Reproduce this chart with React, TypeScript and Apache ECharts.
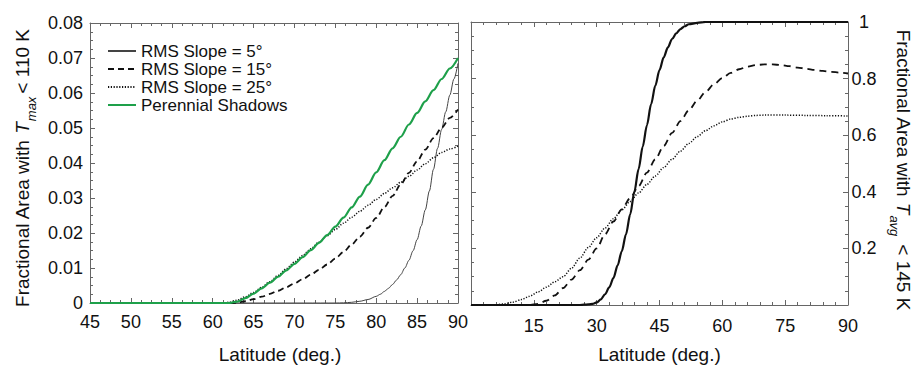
import React, { useEffect, useRef } from "react";
import * as echarts from "echarts";

const FONT = "'Liberation Sans', Arial, Helvetica, sans-serif";
const GREEN = "#1ea04a";
const AXIS_COLOR = "#666";

// ---------- Left panel: fractional area with Tmax < 110 K ----------
const leftLat5 = [45, 75, 76, 77, 78, 79, 80, 80.5, 81, 81.5, 82, 82.5, 83, 83.5, 84, 84.5, 85, 85.5, 86, 86.5, 87, 87.5, 88, 88.5, 89, 89.5, 90];
const leftVal5 = [0, 0, 0.00005, 0.0002, 0.0005, 0.001, 0.0019, 0.0025, 0.0033, 0.0042, 0.0053, 0.0066, 0.0081, 0.01, 0.0122, 0.0149, 0.0181, 0.022, 0.0266, 0.032, 0.0382, 0.0442, 0.0496, 0.0546, 0.0594, 0.064, 0.0685];

const leftLat15 = [45, 62.5, 63, 64, 65, 66, 67, 68, 69, 70, 71, 72, 73, 74, 75, 76, 77, 78, 79, 80, 81, 82, 83, 84, 85, 86, 87, 88, 89, 90];
const leftVal15 = [0, 0, 0.0001, 0.0005, 0.0011, 0.0018, 0.0026, 0.0035, 0.0045, 0.0056, 0.0068, 0.0081, 0.0095, 0.011, 0.0127, 0.0146, 0.0167, 0.019, 0.0215, 0.0243, 0.0274, 0.0306, 0.0339, 0.0372, 0.0405, 0.0438, 0.0471, 0.0501, 0.0529, 0.0553];

const leftLat25 = [45, 61.5, 62, 63, 64, 65, 66, 67, 68, 69, 70, 71, 72, 73, 74, 75, 76, 77, 78, 79, 80, 81, 82, 83, 84, 85, 86, 87, 88, 89, 90];
const leftVal25 = [0, 0, 0.0002, 0.0008, 0.0018, 0.003, 0.0045, 0.0061, 0.0079, 0.0098, 0.0117, 0.0136, 0.0155, 0.0174, 0.0192, 0.021, 0.0228, 0.0245, 0.0262, 0.0279, 0.0296, 0.0313, 0.0329, 0.0345, 0.0362, 0.038, 0.0398, 0.0415, 0.043, 0.044, 0.0448];

const leftLatPS = [45, 62, 63, 64, 65, 66, 67, 68, 69, 70, 71, 72, 73, 74, 75, 76, 77, 78, 79, 80, 81, 82, 83, 84, 85, 86, 87, 88, 89, 90];
const leftValPS = [0, 0, 0.0004, 0.0014, 0.0027, 0.0042, 0.0058, 0.0075, 0.0093, 0.0112, 0.0131, 0.0151, 0.0172, 0.0194, 0.0218, 0.0244, 0.0273, 0.0304, 0.0338, 0.0373, 0.0408, 0.0442, 0.0475, 0.051, 0.0543, 0.0576, 0.0608, 0.064, 0.067, 0.07];

// ---------- Right panel: fractional area with Tavg < 145 K ----------
const rightLat5 = [0, 26, 27, 28, 29, 30, 31, 32, 33, 34, 35, 36, 37, 38, 39, 40, 41, 42, 43, 44, 45, 46, 47, 48, 49, 50, 51, 52, 54, 56, 90];
const rightVal5 = [0, 0, 0.001, 0.002, 0.004, 0.009, 0.02, 0.038, 0.062, 0.095, 0.14, 0.19, 0.25, 0.32, 0.4, 0.48, 0.56, 0.635, 0.71, 0.775, 0.83, 0.875, 0.91, 0.94, 0.96, 0.975, 0.985, 0.992, 0.997, 1, 1];

const rightLat15 = [0, 14, 16, 18, 20, 22, 24, 26, 28, 30, 32, 34, 36, 38, 40, 42, 44, 46, 48, 50, 52, 54, 56, 58, 60, 62, 64, 66, 68, 70, 72, 74, 76, 78, 80, 82, 84, 86, 88, 90];
const rightVal15 = [0, 0, 0.004, 0.015, 0.034, 0.06, 0.09, 0.123, 0.16, 0.2, 0.25, 0.295, 0.338, 0.378, 0.42, 0.468, 0.515, 0.562, 0.608, 0.65, 0.688, 0.722, 0.753, 0.78, 0.802, 0.82, 0.833, 0.842, 0.848, 0.85, 0.85, 0.848, 0.844, 0.839, 0.835, 0.831, 0.827, 0.824, 0.821, 0.818];

const rightLat25 = [0, 5, 6, 8, 10, 12, 14, 16, 18, 20, 22, 24, 26, 28, 30, 32, 34, 36, 38, 40, 42, 44, 46, 48, 50, 52, 54, 56, 58, 60, 62, 64, 66, 68, 70, 75, 80, 85, 90];
const rightVal25 = [0, 0, 0.001, 0.004, 0.01, 0.019, 0.031, 0.046, 0.063, 0.082, 0.1, 0.13, 0.166, 0.203, 0.238, 0.272, 0.305, 0.336, 0.366, 0.396, 0.426, 0.456, 0.486, 0.515, 0.544, 0.571, 0.595, 0.616, 0.633, 0.647, 0.657, 0.663, 0.667, 0.67, 0.671, 0.671, 0.67, 0.669, 0.668];

const legendNames = ["RMS Slope = 5°", "RMS Slope = 15°", "RMS Slope = 25°", "Perennial Shadows"];
const xTitle = "Latitude (deg.)";

const zip = (xs: number[], ys: number[]) => xs.map((x, i) => [x, ys[i]]);

function measure(text: string, size: number, italic: boolean) {
  const ctx = document.createElement("canvas").getContext("2d")!;
  ctx.font = `${italic ? "italic " : ""}${size}px ${FONT}`;
  return ctx.measureText(text).width;
}

type Piece = { t: string; s: number; it?: boolean; dy?: number; gap?: number };

function titleGroup(pieces: Piece[], cx: number, cy: number, rotation: number) {
  let total = 0;
  const widths = pieces.map((p) => {
    const w = measure(p.t, p.s, !!p.it);
    total += w + (p.gap || 0);
    return w;
  });
  let x = -total / 2;
  const children = pieces.map((p, i) => {
    x += p.gap || 0;
    const el = {
      type: "text",
      style: {
        text: p.t,
        x,
        y: p.dy || 0,
        fontSize: p.s,
        fontFamily: FONT,
        fontStyle: p.it ? "italic" : "normal",
        fill: "#111",
        align: "left",
        verticalAlign: "middle",
      },
    };
    x += widths[i];
    return el;
  });
  return { type: "group", x: cx, y: cy, rotation, children };
}

const tickLabel = { color: "#111", fontSize: 18, fontFamily: FONT };

function xAx(grid: number, pos: "bottom" | "top", min: number, max: number, interval: number, minor: number, labels: boolean, extra: any = {}) {
  return {
    type: "value",
    gridIndex: grid,
    position: pos,
    min,
    max,
    interval,
    axisLine: { show: true, onZero: false, lineStyle: { color: AXIS_COLOR, width: 1 } },
    axisTick: { show: true, inside: true, length: 5, lineStyle: { color: AXIS_COLOR } },
    minorTick: { show: true, splitNumber: minor, length: 3, lineStyle: { color: AXIS_COLOR } },
    splitLine: { show: false },
    axisLabel: labels ? { ...tickLabel, margin: 10, ...(extra.axisLabel || {}) } : { show: false },
    ...(extra.rest || {}),
  };
}

function yAx(grid: number, pos: "left" | "right", min: number, max: number, interval: number, minor: number, labels: any) {
  return {
    type: "value",
    gridIndex: grid,
    position: pos,
    min,
    max,
    interval,
    axisLine: { show: true, onZero: false, lineStyle: { color: AXIS_COLOR, width: 1 } },
    axisTick: { show: true, inside: true, length: 5, lineStyle: { color: AXIS_COLOR } },
    minorTick: { show: true, splitNumber: minor, length: 3, lineStyle: { color: AXIS_COLOR } },
    splitLine: { show: false },
    axisLabel: labels ? { ...tickLabel, ...labels } : { show: false },
  };
}

export default function App() {
  const ref = useRef<HTMLDivElement>(null);
  useEffect(() => {
    const chart = echarts.init(ref.current!, null, { renderer: "svg" });
    const lineBase = { type: "line", showSymbol: false, symbol: "none", smooth: 0.3, smoothMonotone: "x", animation: false };
    const option: any = {
      animation: false,
      textStyle: { fontFamily: FONT },
      grid: [
        { left: 90, right: 459, top: 23, bottom: 56 },
        { left: 471, right: 69, top: 22, bottom: 53 },
      ],
      xAxis: [
        xAx(0, "bottom", 45, 90, 5, 4, true, {
          rest: {
            name: xTitle,
            nameLocation: "middle",
            nameGap: 42,
            nameTextStyle: { color: "#111", fontSize: 19, fontFamily: FONT, padding: [0, 0, 0, 12] },
          },
        }),
        xAx(0, "top", 45, 90, 5, 4, false),
        xAx(1, "bottom", 0, 90, 15, 5, true, {
          axisLabel: { margin: 12, showMinLabel: false },
          rest: {
            name: xTitle,
            nameLocation: "middle",
            nameGap: 40,
            nameTextStyle: { color: "#111", fontSize: 19, fontFamily: FONT },
          },
        }),
        xAx(1, "top", 0, 90, 15, 5, false),
      ],
      yAxis: [
        yAx(0, "left", 0, 0.08, 0.01, 4, { margin: 7 }),
        yAx(0, "right", 0, 0.08, 0.01, 4, null),
        yAx(1, "right", 0, 1, 0.2, 4, { margin: 16, align: "center", showMinLabel: false }),
        yAx(1, "left", 0, 1, 0.2, 4, null),
      ],
      legend: {
        data: legendNames,
        orient: "vertical",
        left: 102,
        top: 37,
        itemWidth: 28,
        itemHeight: 12,
        itemGap: 0,
        itemStyle: { opacity: 0 },
        textStyle: { color: "#111", fontSize: 17, lineHeight: 18, fontFamily: FONT },
        selectedMode: false,
      },
      series: [
        {
          ...lineBase,
          name: legendNames[0],
          xAxisIndex: 0,
          yAxisIndex: 0,
          data: zip(leftLat5, leftVal5),
          lineStyle: { color: "#444", width: 1, type: "solid" },
          itemStyle: { color: "#444" },
          z: 2,
        },
        {
          ...lineBase,
          name: legendNames[1],
          xAxisIndex: 0,
          yAxisIndex: 0,
          data: zip(leftLat15, leftVal15),
          lineStyle: { color: "#111", width: 1.8, type: [6, 4] },
          itemStyle: { color: "#111" },
          z: 3,
        },
        {
          ...lineBase,
          name: legendNames[2],
          xAxisIndex: 0,
          yAxisIndex: 0,
          data: zip(leftLat25, leftVal25),
          lineStyle: { color: "#111", width: 1.5, type: [1.2, 1.6] },
          itemStyle: { color: "#111" },
          z: 3,
        },
        {
          ...lineBase,
          name: legendNames[3],
          xAxisIndex: 0,
          yAxisIndex: 0,
          data: zip(leftLatPS, leftValPS),
          lineStyle: { color: GREEN, width: 2.2, type: "solid" },
          itemStyle: { color: GREEN },
          z: 5,
        },
        {
          ...lineBase,
          name: "r5",
          xAxisIndex: 2,
          yAxisIndex: 2,
          data: zip(rightLat5, rightVal5),
          lineStyle: { color: "#111", width: 2.2, type: "solid" },
          itemStyle: { color: "#111" },
        },
        {
          ...lineBase,
          name: "r15",
          xAxisIndex: 2,
          yAxisIndex: 2,
          data: zip(rightLat15, rightVal15),
          lineStyle: { color: "#111", width: 1.8, type: [7, 5] },
          itemStyle: { color: "#111" },
        },
        {
          ...lineBase,
          name: "r25",
          xAxisIndex: 2,
          yAxisIndex: 2,
          data: zip(rightLat25, rightVal25),
          lineStyle: { color: "#111", width: 1.5, type: [1.2, 1.6] },
          itemStyle: { color: "#111" },
        },
      ],
      graphic: [
        titleGroup(
          [
            { t: "Fractional Area with ", s: 19 },
            { t: "T", s: 19, it: true },
            { t: "max", s: 13, it: true, dy: 9, gap: 1 },
            { t: "< 110 K", s: 19, gap: 3 },
          ],
          22,
          168,
          Math.PI / 2
        ),
        titleGroup(
          [
            { t: "Fractional Area with ", s: 19 },
            { t: "T", s: 19, it: true },
            { t: "avg", s: 13, it: true, dy: 9, gap: 1 },
            { t: "< 145 K", s: 19, gap: 8 },
          ],
          903,
          170,
          -Math.PI / 2
        ),
      ],
    };
    chart.setOption(option);
    return () => chart.dispose();
  }, []);
  return <div ref={ref} style={{ position: "fixed", left: 0, top: 0, width: 917, height: 369, background: "#fff" }} />;
}
